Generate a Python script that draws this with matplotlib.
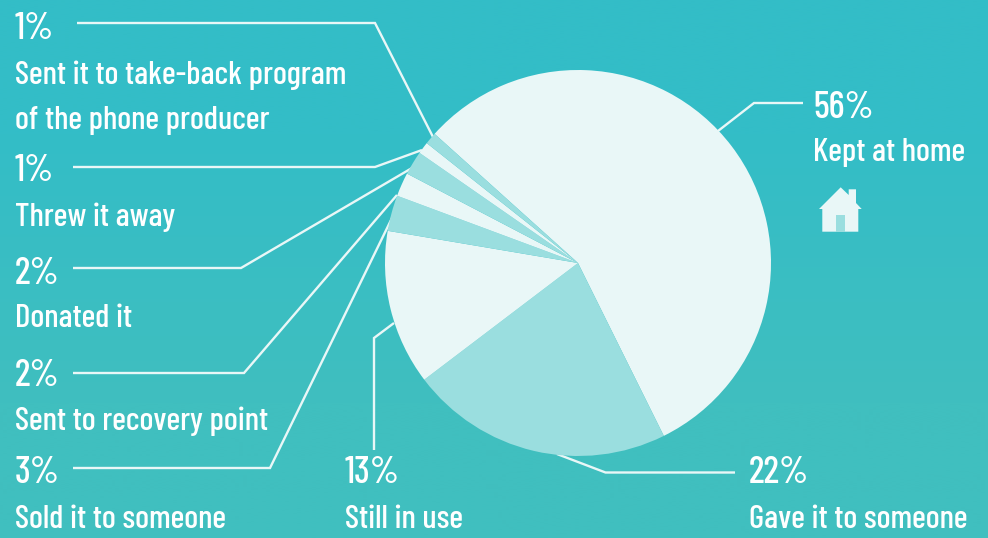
import numpy as np
import matplotlib
matplotlib.use("Agg")
import matplotlib.pyplot as plt
from matplotlib.patches import Polygon

# clockwise from the top left edge of "Kept at home"
shares = [56, 22, 13, 3, 2, 2, 1, 1]
pcts = ["56%", "22%", "13%", "3%", "2%", "2%", "1%", "1%"]
names = ["Kept at home", "Gave it to someone", "Still in use", "Sold it to someone",
         "Sent to recovery point", "Donated it", "Threw it away",
         "Sent it to take-back program\nof the phone producer"]

LIGHT = "#e9f7f7"
DARK = "#9adedf"
W, H = 988, 538

plt.rcParams['font.family'] = ['Barlow Condensed', 'DejaVu Sans']

fig = plt.figure(figsize=(W/100, H/100), dpi=100)
ax = fig.add_axes([0, 0, 1, 1])

# background, slightly greener at the bottom
bg = np.array([[[0x33/255, 0xbd/255, 0xc7/255]], [[0x40/255, 0xbf/255, 0xbf/255]]])
ax.imshow(bg, extent=(0, W, H, 0), aspect='auto', interpolation='bilinear', zorder=0)

# y axis is inverted (pixel coords) so counterclock here reads clockwise on screen
ax.pie(shares, colors=[LIGHT, DARK]*4, startangle=-138, counterclock=True,
       center=(578, 263), radius=193, wedgeprops={'linewidth': 0, 'zorder': 2})

ax.set_xlim(0, W)
ax.set_ylim(H, 0)
ax.set_aspect('auto')
ax.axis('off')

# leader lines
leaders = [
    ([718, 754, 803], [131, 103, 103]),
    ([557, 605.5, 735], [454, 472.5, 472.5]),
    ([374, 374, 394], [450, 338, 323]),
    ([73, 270, 392], [468, 468, 218]),
    ([73, 244, 397], [373, 373, 195]),
    ([73, 241, 412], [268, 268, 168]),
    ([73, 375, 422], [167, 167, 150]),
    ([77, 375, 433], [23, 23, 137]),
]
for xs, ys in leaders:
    ax.plot(xs, ys, color=LIGHT, lw=1.7, solid_joinstyle='miter', solid_capstyle='butt', zorder=1)

# label positions: x, baseline of pct, baseline of name
label_pos = [(813, 118, 161), (749, 483, 528), (345, 483, 528), (15, 483, 528),
             (15, 386, 430), (15, 284, 327), (15, 181, 226), (15, 39, 84)]
for p, n, (x, y1, y2) in zip(pcts, names, label_pos):
    ax.text(x, y1, p, color="white", fontsize=27, fontweight=500, va='baseline', ha='left', zorder=3)
    lines = n.split("\n")
    for i, line in enumerate(lines):
        ax.text(x, y2 + i*45, line, color="white", fontsize=23.7, fontweight=500,
                va='baseline', ha='left', zorder=3)

# house icon
ax.add_patch(Polygon([(819, 209), (840.7, 187.3), (848.7, 195), (848.7, 189.3), (856, 189.3),
                      (856, 203), (861.7, 209), (858.3, 209), (858.3, 231.7), (822.3, 231.7),
                      (822.3, 209)], closed=True, fc=LIGHT, ec='none', zorder=3))
ax.add_patch(Polygon([(835.7, 215), (845, 215), (845, 231.7), (835.7, 231.7)],
                     closed=True, fc=DARK, ec='none', zorder=4))

plt.savefig("out.png", dpi=100)
